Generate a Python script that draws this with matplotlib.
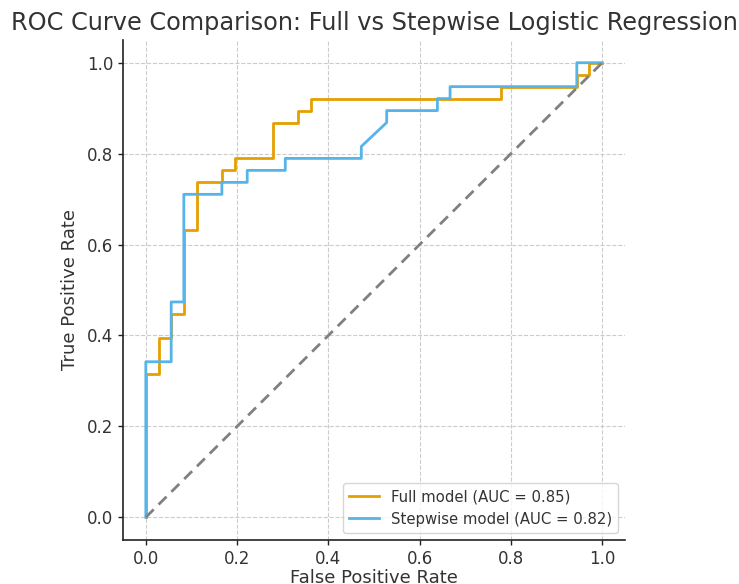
import matplotlib
matplotlib.use("Agg")
import matplotlib.pyplot as plt

# ROC points (FPR, TPR)
full_fpr = [0.0, 0.0, 0.0278, 0.0278, 0.0556, 0.0556, 0.0833, 0.0833, 0.1111, 0.1111,
            0.1667, 0.1667, 0.1944, 0.1944, 0.2778, 0.2778, 0.3333, 0.3333, 0.3611, 0.3611,
            0.7778, 0.7778, 0.9444, 0.9444, 0.9722, 0.9722, 1.0]
full_tpr = [0.0, 0.3158, 0.3158, 0.3947, 0.3947, 0.4474, 0.4474, 0.6316, 0.6316, 0.7368,
            0.7368, 0.7632, 0.7632, 0.7895, 0.7895, 0.8684, 0.8684, 0.8947, 0.8947, 0.9211,
            0.9211, 0.9474, 0.9474, 0.9737, 0.9737, 1.0, 1.0]

step_fpr = [0.0, 0.0, 0.0556, 0.0556, 0.0833, 0.0833, 0.1667, 0.1667, 0.2222, 0.2222,
            0.3056, 0.3056, 0.4722, 0.4722, 0.5278, 0.5278, 0.6389, 0.6389, 0.6667, 0.6667,
            0.9444, 0.9444, 1.0]
step_tpr = [0.0, 0.3421, 0.3421, 0.4737, 0.4737, 0.7105, 0.7105, 0.7368, 0.7368, 0.7632,
            0.7632, 0.7895, 0.7895, 0.8158, 0.8684, 0.8947, 0.8947, 0.9211, 0.9211, 0.9474,
            0.9474, 1.0, 1.0]

full_label = "Full model (AUC = 0.85)"
step_label = "Stepwise model (AUC = 0.82)"
title = "ROC Curve Comparison: Full vs Stepwise Logistic Regression"
xlabel = "False Positive Rate"
ylabel = "True Positive Rate"
ticks = [0.0, 0.2, 0.4, 0.6, 0.8, 1.0]

TXT = "#333333"
plt.rcParams["font.family"] = ["DejaVu Sans"]

fig = plt.figure(figsize=(7.39, 5.84), dpi=100)
ax = fig.add_axes([123/739, 44/584, 502/739, 500/584])

ax.plot(full_fpr, full_tpr, color="#E69F00", lw=2, label=full_label)
ax.plot(step_fpr, step_tpr, color="#56B4E9", lw=2, label=step_label)
ax.plot([0, 1], [0, 1], color="gray", lw=2, ls=(0, (4, 2.5)))

ax.set_xlim(-0.05, 1.05)
ax.set_ylim(-0.05, 1.05)
ax.set_xticks(ticks)
ax.set_yticks(ticks)
ax.set_xticklabels([f"{t:.1f}" for t in ticks])
ax.set_yticklabels([f"{t:.1f}" for t in ticks])
ax.grid(True, ls="--", color="#cccccc", lw=0.8)
ax.set_axisbelow(True)
for s in ["top", "right"]:
    ax.spines[s].set_visible(False)
for s in ["left", "bottom"]:
    ax.spines[s].set_color("#222222")
    ax.spines[s].set_linewidth(1.2)
ax.tick_params(labelsize=12, colors="#222222", labelcolor=TXT, length=3.5, width=1)
ax.set_xlabel(xlabel, fontsize=13, color=TXT, labelpad=1)
ax.set_ylabel(ylabel, fontsize=13, color=TXT, labelpad=6)
ax.set_title(title, fontsize=17.3, color=TXT, pad=7)
leg = ax.legend(loc="lower right", fontsize=10.7, frameon=True, fancybox=True,
                borderaxespad=0.5)
for t in leg.get_texts():
    t.set_color(TXT)
leg.get_frame().set_edgecolor("#cccccc")

fig.savefig("out.png", dpi=100)
